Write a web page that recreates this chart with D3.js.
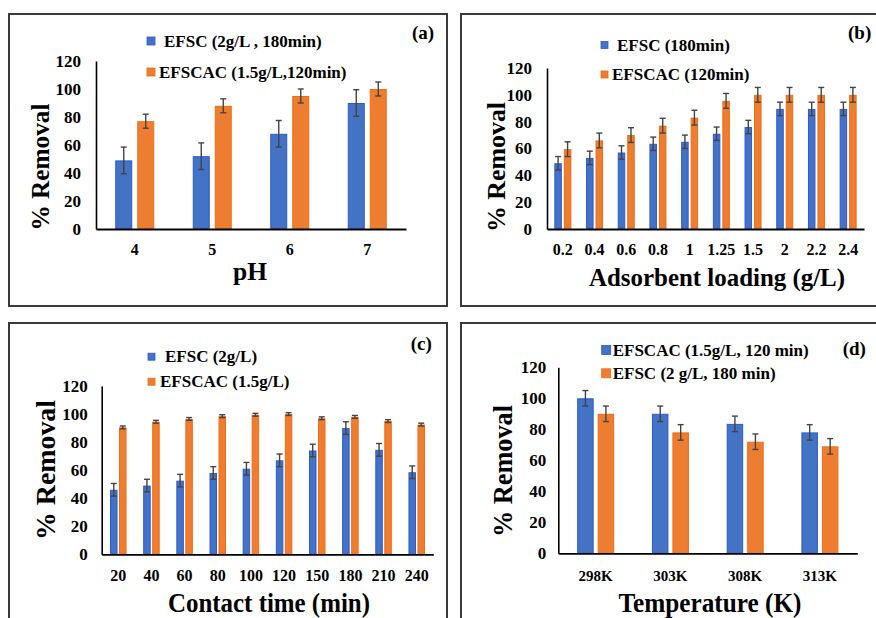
<!DOCTYPE html>
<html>
<head>
<meta charset="utf-8">
<script src="https://cdn.jsdelivr.net/npm/d3@7"></script>
<style>
  html, body { margin: 0; padding: 0; background: #fff; }
</style>
</head>
<body>
<div id="display"></div>
<script>
// ---- data ----
const pHLabels = ['4', '5', '6', '7'];
const pHEfsc = [49, 52, 68, 90];
const pHEfscac = [77, 88, 95, 100];
const pHEfscErr = [9.5, 9.5, 9.5, 9.5];
const pHEfscacErr = [5, 5, 5, 5];

const loadLabels = ['0.2', '0.4', '0.6', '0.8', '1', '1.25', '1.5', '2', '2.2', '2.4'];
const loadEfsc = [49, 53, 57, 63.5, 65, 71, 76, 89.5, 89.5, 89.5];
const loadEfscac = [59.5, 66, 70, 77, 83, 95.5, 100, 100, 100, 100];
const loadEfscErr = [5, 5, 5, 5, 5, 5, 5, 5, 5, 5];
const loadEfscacErr = [5.5, 5.5, 5.5, 5.5, 5.5, 5.5, 5.5, 5.5, 5.5, 5.5];

const timeLabels = ['20', '40', '60', '80', '100', '120', '150', '180', '210', '240'];
const timeEfsc = [46, 49, 52.5, 58, 61, 67, 74, 90, 74.5, 58.5];
const timeEfscac = [90.5, 94.5, 96.5, 98.5, 99.5, 100, 97, 98, 95, 92.5];
const timeEfscErr = [4.5, 4.5, 4.5, 4.5, 4.5, 4.5, 4.5, 4.5, 4.5, 4.5];
const timeEfscacErr = [1, 1, 1, 1, 1, 1, 1, 1, 1, 1];

const tempLabels = ['298K', '303K', '308K', '313K'];
const tempEfscac = [100, 90, 83.5, 78];
const tempEfsc = [90, 78, 72, 69];
const tempEfscacErr = [5, 5, 5, 5];
const tempEfscErr = [5, 5, 5, 5];

const yTicks = [0, 20, 40, 60, 80, 100, 120];

const blue = { fill: '#4472C4', stroke: '#2A5BD3' };
const orange = { fill: '#ED7D31', stroke: '#F26C12' };
const serif = '"Liberation Serif"';

const w = 876;
const h = 618;

const viz = d3.select('#display').append('svg')
    .attr('width', w)
    .attr('height', h)
    .style('display', 'block');

viz.append('rect').attr('width', w).attr('height', h).attr('fill', '#fff');

// every label gets the serif face inline
const styleText = (sel, size) => sel
    .style('font-family', serif)
    .style('font-weight', 'bold')
    .style('font-size', `${size}px`)
    .attr('fill', '#000');

const drawPanel = (cfg) => {
    const g = viz.append('g').attr('class', `panel-${cfg.tag}`);

    g.append('rect')
        .attr('x', cfg.box[0]).attr('y', cfg.box[1])
        .attr('width', cfg.box[2]).attr('height', cfg.box[3])
        .attr('fill', 'none')
        .attr('stroke', '#3a3a3a')
        .attr('stroke-width', 2);

    const n = cfg.labels.length;
    const step = (cfg.plot.x1 - cfg.plot.x0) / n;
    const groupW = 2 * cfg.barW + cfg.gap;
    const pIn = 1 - groupW / step;

    const x0 = d3.scaleBand()
        .domain(cfg.labels)
        .range([cfg.plot.x0, cfg.plot.x1])
        .paddingInner(pIn)
        .paddingOuter(pIn / 2);
    const x1 = d3.scaleBand()
        .domain([0, 1])
        .range([0, x0.bandwidth()])
        .paddingInner(cfg.gap / (cfg.barW + cfg.gap));
    const yScale = d3.scaleLinear()
        .domain([0, 120])
        .range([cfg.plot.y0, cfg.plot.y120]);

    // bars + error bars
    cfg.series.forEach((s, si) => {
        const rows = cfg.labels.map((lab, i) => ({ lab, v: s.values[i], e: s.err[i] }));
        const sg = g.append('g').attr('class', `series-${si}`);
        sg.selectAll('rect')
            .data(rows)
            .enter()
            .append('rect')
            .attr('x', (d) => x0(d.lab) + x1(si) + 0.5)
            .attr('y', (d) => yScale(d.v) + 0.5)
            .attr('width', x1.bandwidth() - 1)
            .attr('height', (d) => yScale(0) - yScale(d.v) - 0.5)
            .attr('fill', s.color.fill)
            .attr('stroke', s.color.stroke)
            .attr('stroke-width', 1);

        const eg = sg.selectAll('.err')
            .data(rows)
            .enter()
            .append('g')
            .attr('class', 'err')
            .attr('stroke', '#444')
            .attr('stroke-width', 1.4);
        const cx = (d) => x0(d.lab) + x1(si) + x1.bandwidth() / 2;
        eg.append('line')
            .attr('x1', cx).attr('x2', cx)
            .attr('y1', (d) => yScale(d.v - d.e))
            .attr('y2', (d) => yScale(d.v + d.e));
        eg.append('line')
            .attr('x1', (d) => cx(d) - 3).attr('x2', (d) => cx(d) + 3)
            .attr('y1', (d) => yScale(d.v + d.e)).attr('y2', (d) => yScale(d.v + d.e));
        eg.append('line')
            .attr('x1', (d) => cx(d) - 3).attr('x2', (d) => cx(d) + 3)
            .attr('y1', (d) => yScale(d.v - d.e)).attr('y2', (d) => yScale(d.v - d.e));
    });

    // axes
    const yAxisGroup = g.append('g')
        .attr('transform', `translate(${cfg.plot.x0},0)`)
        .call(d3.axisLeft(yScale).tickValues(yTicks).tickSize(0).tickPadding(cfg.yPad));
    yAxisGroup.select('.domain').attr('stroke', '#000').attr('stroke-width', 1.6);
    styleText(yAxisGroup.selectAll('text'), cfg.yTickSize);

    const xAxisGroup = g.append('g')
        .attr('transform', `translate(0,${cfg.plot.y0})`)
        .call(d3.axisBottom(x0).tickSize(0).tickSizeOuter(0).tickPadding(cfg.xPad));
    xAxisGroup.select('.domain').attr('stroke', '#000').attr('stroke-width', 1.8);
    styleText(xAxisGroup.selectAll('text'), cfg.xTickSize);

    // titles
    styleText(g.append('text')
        .attr('x', cfg.xTitle.x)
        .attr('y', cfg.xTitle.y)
        .attr('text-anchor', 'middle')
        .attr('textLength', cfg.xTitle.len)
        .attr('lengthAdjust', 'spacingAndGlyphs')
        .text(cfg.xTitle.text), cfg.xTitle.size);

    styleText(g.append('text')
        .attr('transform', `translate(${cfg.yTitle.x},${cfg.yTitle.y}) rotate(-90)`)
        .attr('text-anchor', 'middle')
        .attr('dy', '0.35em')
        .attr('textLength', cfg.yTitle.len)
        .attr('lengthAdjust', 'spacingAndGlyphs')
        .text('% Removal'), cfg.yTitle.size);

    // legend
    cfg.series.forEach((s, si) => {
        const L = cfg.legend[si];
        g.append('rect')
            .attr('x', L.sx).attr('y', L.y - L.sq / 2)
            .attr('width', L.sq).attr('height', L.sq)
            .attr('fill', s.color.fill)
            .attr('stroke', s.color.stroke)
            .attr('stroke-width', 0.8);
        styleText(g.append('text')
            .attr('x', L.tx).attr('y', L.y)
            .attr('dy', '0.33em')
            .text(s.name), 17);
    });

    styleText(g.append('text')
        .attr('x', cfg.tagPos[0]).attr('y', cfg.tagPos[1])
        .attr('dy', '0.33em')
        .text(`(${cfg.tag})`), 19);
};

drawPanel({
    tag: 'a',
    box: [9, 14, 438, 292],
    plot: { x0: 96, x1: 406, y0: 229, y120: 61 },
    barW: 17, gap: 5,
    labels: pHLabels,
    series: [
        { name: 'EFSC (2g/L , 180min)', values: pHEfsc, err: pHEfscErr, color: blue },
        { name: 'EFSCAC (1.5g/L,120min)', values: pHEfscac, err: pHEfscacErr, color: orange }
    ],
    legend: [
        { sx: 147, tx: 164, y: 41, sq: 8 },
        { sx: 147, tx: 159, y: 72, sq: 8 }
    ],
    xPad: 15, yPad: 15, xTickSize: 16, yTickSize: 17,
    xTitle: { text: 'pH', x: 250, y: 280, size: 25, len: 34 },
    yTitle: { x: 40, y: 167, size: 26, len: 127 },
    tagPos: [412, 33]
});

drawPanel({
    tag: 'b',
    box: [461, 14, 430, 292],
    plot: { x0: 547, x1: 864, y0: 229, y120: 68 },
    barW: 7.5, gap: 2,
    labels: loadLabels,
    series: [
        { name: 'EFSC (180min)', values: loadEfsc, err: loadEfscErr, color: blue },
        { name: 'EFSCAC (120min)', values: loadEfscac, err: loadEfscacErr, color: orange }
    ],
    legend: [
        { sx: 601, tx: 617, y: 45, sq: 7 },
        { sx: 601, tx: 612, y: 74.5, sq: 7 }
    ],
    xPad: 15, yPad: 15, xTickSize: 16, yTickSize: 17,
    xTitle: { text: 'Adsorbent loading (g/L)', x: 717, y: 286, size: 26, len: 256 },
    yTitle: { x: 496, y: 167, size: 26, len: 130 },
    tagPos: [848, 33]
});

drawPanel({
    tag: 'c',
    box: [9, 323, 438, 310],
    plot: { x0: 101.7, x1: 433.3, y0: 554.3, y120: 386 },
    barW: 7.5, gap: 1.5,
    labels: timeLabels,
    series: [
        { name: 'EFSC (2g/L)', values: timeEfsc, err: timeEfscErr, color: blue },
        { name: 'EFSCAC (1.5g/L)', values: timeEfscac, err: timeEfscacErr, color: orange }
    ],
    legend: [
        { sx: 148, tx: 165, y: 356.7, sq: 7 },
        { sx: 148, tx: 160, y: 381.7, sq: 7 }
    ],
    xPad: 15.4, yPad: 14, xTickSize: 16, yTickSize: 17,
    xTitle: { text: 'Contact time (min)', x: 269, y: 612, size: 28, len: 202 },
    yTitle: { x: 45, y: 470, size: 28, len: 140 },
    tagPos: [410.7, 343.3]
});

drawPanel({
    tag: 'd',
    box: [461, 323, 430, 310],
    plot: { x0: 558.3, x1: 857.3, y0: 553.3, y120: 367.3 },
    barW: 16.5, gap: 4,
    labels: tempLabels,
    series: [
        { name: 'EFSCAC (1.5g/L, 120 min)', values: tempEfscac, err: tempEfscacErr, color: blue },
        { name: 'EFSC (2 g/L, 180 min)', values: tempEfsc, err: tempEfscErr, color: orange }
    ],
    legend: [
        { sx: 601.7, tx: 612.7, y: 350, sq: 9 },
        { sx: 601.7, tx: 612.7, y: 373.3, sq: 9 }
    ],
    xPad: 17.5, yPad: 12, xTickSize: 15, yTickSize: 17,
    xTitle: { text: 'Temperature (K)', x: 710, y: 612, size: 28, len: 183 },
    yTitle: { x: 502.5, y: 471, size: 27, len: 132 },
    tagPos: [842.7, 348.3]
});
</script>
</body>
</html>
